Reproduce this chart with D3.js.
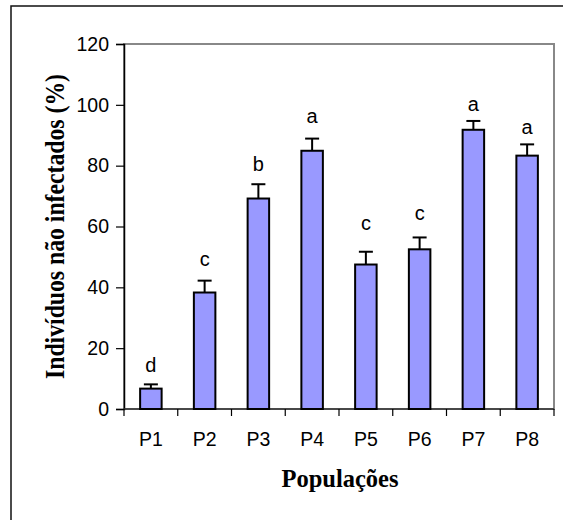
<!DOCTYPE html>
<html>
<head>
<meta charset="utf-8">
<script src="https://cdn.jsdelivr.net/npm/d3@7"></script>
<style>
  body { margin: 0; background: #fff; }
  svg { display: block; }
</style>
</head>
<body>
<div id="chart"></div>
<script>
// data
var populations = ["P1", "P2", "P3", "P4", "P5", "P6", "P7", "P8"];
var naoInfectados = [6.7, 38.3, 69.2, 84.9, 47.5, 52.5, 91.8, 83.3];
var erroPadrao = [1.4, 3.9, 4.7, 4.0, 4.2, 3.9, 2.9, 3.7];
var letras = ["d", "c", "b", "a", "c", "c", "a", "a"];
var letraAltura = [12.2, 47.0, 78.3, 94.0, 58.7, 62.1, 98.0, 90.4]; // baseline, in % units
var yTicks = [0, 20, 40, 60, 80, 100, 120];

var width = 563, height = 520;
// plot area edges (window.top is reserved, so prefix them)
var plotLeft = 124, plotRight = 554, plotTop = 44, plotBottom = 409;

var svg = d3.select("#chart").append("svg")
    .attr("width", width)
    .attr("height", height);

// outer chart frame (right and bottom edges fall outside the picture)
svg.append("rect")
    .attr("x", 11).attr("y", 6)
    .attr("width", 600).attr("height", 600)
    .attr("fill", "none")
    .attr("stroke", "#111")
    .attr("stroke-width", 1.5);

var x = d3.scaleBand()
    .domain(populations)
    .range([plotLeft, plotRight])
    .paddingInner(0.6)
    .paddingOuter(0.3);

var y = d3.scaleLinear()
    .domain([0, 120])
    .range([plotBottom, plotTop]);

// plot area border
svg.append("rect")
    .attr("x", plotLeft).attr("y", plotTop)
    .attr("width", plotRight - plotLeft).attr("height", plotBottom - plotTop)
    .attr("fill", "none")
    .attr("stroke", "#888")
    .attr("stroke-width", 2);

// y axis
var yAxis = svg.append("g")
    .attr("transform", "translate(" + plotLeft + ",0)")
    .call(d3.axisLeft(y).tickValues(yTicks).tickSize(8).tickPadding(7));
yAxis.select(".domain").attr("stroke", "#000").attr("stroke-width", 1.5);
yAxis.selectAll(".tick line").attr("stroke", "#000").attr("stroke-width", 1.2);
yAxis.selectAll("text")
    .style("font-family", "Liberation Sans, Arial, sans-serif")
    .style("font-size", "19.5px")
    .attr("fill", "#000");

// x axis: ticks between the categories
var boundaries = d3.range(populations.length + 1).map(function(i) {
    return plotLeft + i * (plotRight - plotLeft) / populations.length;
});

svg.append("line")
    .attr("x1", plotLeft).attr("x2", plotRight)
    .attr("y1", plotBottom).attr("y2", plotBottom)
    .attr("stroke", "#333").attr("stroke-width", 1.5);

svg.selectAll(".xtick")
    .data(boundaries)
    .enter().append("line")
    .attr("class", "xtick")
    .attr("x1", function(d) { return d; }).attr("x2", function(d) { return d; })
    .attr("y1", plotBottom).attr("y2", plotBottom + 7)
    .attr("stroke", "#000").attr("stroke-width", 1.2);

svg.selectAll(".xlabel")
    .data(populations)
    .enter().append("text")
    .attr("class", "xlabel")
    .attr("x", function(d) { return x(d) + x.bandwidth() / 2; })
    .attr("y", 446)
    .attr("text-anchor", "middle")
    .style("font-family", "Liberation Sans, Arial, sans-serif")
    .style("font-size", "19.5px")
    .text(function(d) { return d; });

var bars = populations.map(function(p, i) {
    return { pop: p, value: naoInfectados[i], err: erroPadrao[i], letra: letras[i], alt: letraAltura[i] };
});

// error bars (upper half only)
svg.selectAll(".err")
    .data(bars)
    .enter().append("line")
    .attr("class", "err")
    .attr("x1", function(d) { return x(d.pop) + x.bandwidth() / 2; })
    .attr("x2", function(d) { return x(d.pop) + x.bandwidth() / 2; })
    .attr("y1", function(d) { return y(d.value); })
    .attr("y2", function(d) { return y(d.value + d.err); })
    .attr("stroke", "#000").attr("stroke-width", 2);

svg.selectAll(".cap")
    .data(bars)
    .enter().append("line")
    .attr("class", "cap")
    .attr("x1", function(d) { return x(d.pop) + x.bandwidth() / 2 - 7; })
    .attr("x2", function(d) { return x(d.pop) + x.bandwidth() / 2 + 7; })
    .attr("y1", function(d) { return y(d.value + d.err); })
    .attr("y2", function(d) { return y(d.value + d.err); })
    .attr("stroke", "#000").attr("stroke-width", 2);

// bars
svg.selectAll(".bar")
    .data(bars)
    .enter().append("rect")
    .attr("class", "bar")
    .attr("x", function(d) { return x(d.pop); })
    .attr("width", x.bandwidth())
    .attr("y", function(d) { return y(d.value); })
    .attr("height", function(d) { return y(0) - y(d.value); })
    .attr("fill", "#9999ff")
    .attr("stroke", "#000")
    .attr("stroke-width", 2);

// significance letters
svg.selectAll(".letra")
    .data(bars)
    .enter().append("text")
    .attr("class", "letra")
    .attr("x", function(d) { return x(d.pop) + x.bandwidth() / 2; })
    .attr("y", function(d) { return y(d.alt); })
    .attr("text-anchor", "middle")
    .style("font-family", "Liberation Sans, Arial, sans-serif")
    .style("font-size", "20px")
    .text(function(d) { return d.letra; });

// axis titles
svg.append("text")
    .attr("transform", "translate(64," + ((plotTop + plotBottom) / 2) + ") rotate(-90)")
    .attr("text-anchor", "middle")
    .attr("textLength", 305)
    .attr("lengthAdjust", "spacingAndGlyphs")
    .style("font-family", "Liberation Serif, Times New Roman, serif")
    .style("font-weight", "bold")
    .style("font-size", "27px")
    .text("Indivíduos não infectados (%)");

svg.append("text")
    .attr("x", (plotLeft + plotRight) / 2 + 1)
    .attr("y", 487)
    .attr("text-anchor", "middle")
    .style("font-family", "Liberation Serif, Times New Roman, serif")
    .style("font-weight", "bold")
    .style("font-size", "24.5px")
    .text("Populações");
</script>
</body>
</html>
